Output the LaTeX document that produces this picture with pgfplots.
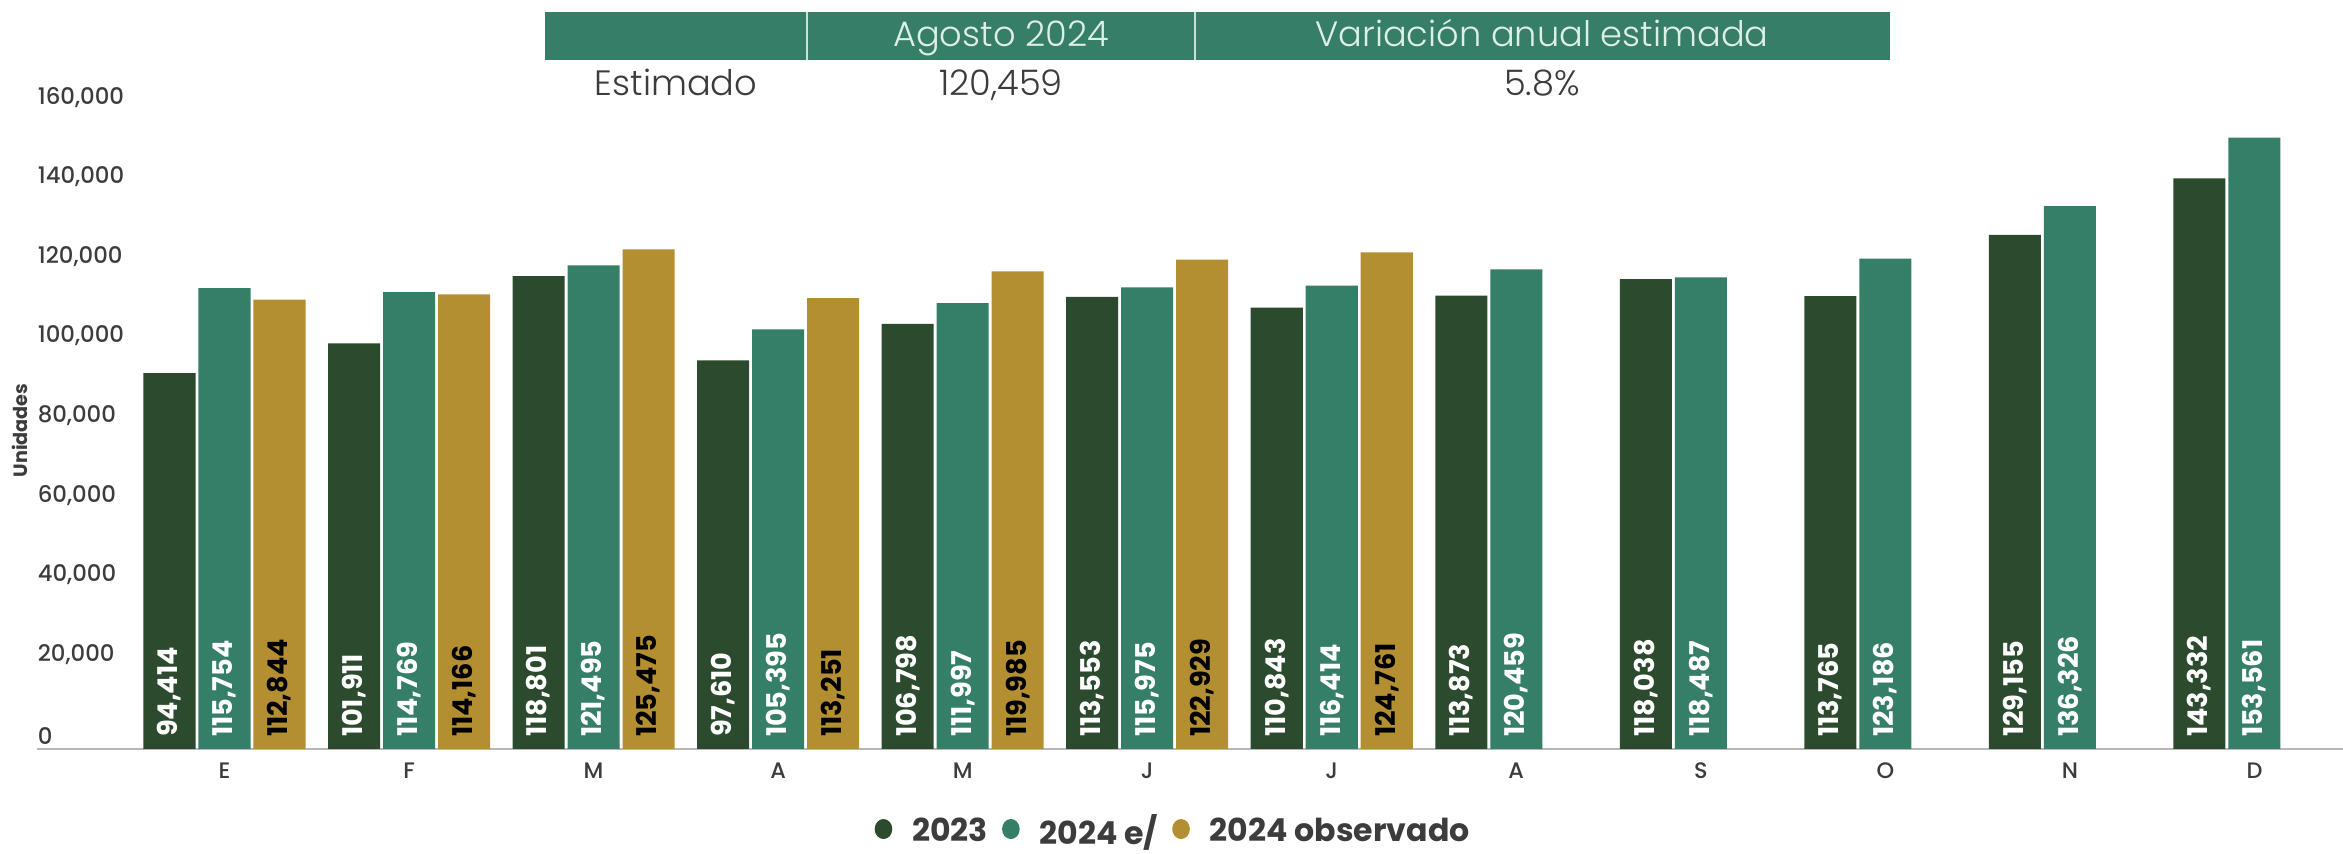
\documentclass[border=0pt]{standalone}
\usepackage{pgfplots}
\pgfplotsset{compat=1.18}
\usepackage{fontspec}
\setmainfont{Poppins}
\newfontfamily\lightfont{Poppins Light}
\newfontfamily\medfont{Poppins Medium}

\definecolor{c23}{HTML}{2C4A2E}
\definecolor{c24}{HTML}{357E67}
\definecolor{cobs}{HTML}{B38F31}
\definecolor{hdr}{HTML}{367E67}
\definecolor{hdrtxt}{HTML}{DDEFE6}
\definecolor{txt}{HTML}{3C3C3C}

\begin{document}
\begin{tikzpicture}
\path[use as bounding box] (0,0) rectangle (585.75pt,213.5pt);
\begin{axis}[
  at={(9.25pt,26.25pt)}, anchor=south west,
  scale only axis, width=576.5pt, height=159.25pt,
  ybar, bar width=0.282,
  xmin=-1.016, xmax=11.48, ymin=0, ymax=160000,
  axis x line*=bottom, axis y line*=left,
  x axis line style={draw=black!28, line width=0.7pt},
  y axis line style={draw=none},
  major tick length=0pt,
  xtick={0,...,11},
  xticklabels={E,F,M,A,M,J,J,A,S,O,N,D},
  ytick={0,20000,...,160000},
  scaled y ticks=false,
  /pgf/number format/fixed,
  /pgf/number format/precision=0,
  /pgf/number format/1000 sep={,},
  /pgf/number format/assume math mode=true,
  xticklabel style={font=\medfont\fontsize{5.6}{6}\selectfont, text=txt, inner sep=0pt, anchor=north, yshift=-3.3pt},
  yticklabel style={font=\medfont\fontsize{5.7}{6}\selectfont, text=txt, inner sep=0pt, anchor=south west, xshift=0pt, yshift=1pt},
  ylabel={Unidades},
  ylabel style={font=\bfseries\fontsize{4.8}{5}\selectfont, text=txt, at={(axis description cs:-0.0075,0.5)}, anchor=center},
  visualization depends on={y \as \rawy},
  nodes near coords={\pgfmathprintnumber{\pgfplotspointmeta}},
  every node near coord/.append style={shift={(axis direction cs:0,-\rawy)}, yshift=2.8pt, rotate=90, anchor=west, inner sep=0pt, font=\bfseries\fontsize{6.8}{7}\selectfont},
  legend style={at={(axis description cs:0.494,-0.131)}, anchor=center, draw=none, fill=none, legend columns=3,
    inner sep=0pt, font=\bfseries\fontsize{7.9}{8}\selectfont, text=txt,
    /tikz/every even column/.append style={column sep=1.5pt},
    /tikz/every odd column/.append style={column sep=3pt}},
  legend image code/.code={\fill (0.08cm,0.03cm) ellipse (2.2pt and 2.5pt);},
]
\addplot[fill=c23, draw=none, bar shift=-0.298, every node near coord/.append style={text=white}] coordinates {
  (0,94414) (1,101911) (2,118801) (3,97610) (4,106798) (5,113553)
  (6,110843) (7,113873) (8,118038) (9,113765) (10,129155) (11,143332)
};
\addplot[fill=c24, draw=none, bar shift=0, every node near coord/.append style={text=white}] coordinates {
  (0,115754) (1,114769) (2,121495) (3,105395) (4,111997) (5,115975)
  (6,116414) (7,120459) (8,118487) (9,123186) (10,136326) (11,153561)
};
\addplot[fill=cobs, draw=none, bar shift=0.298, every node near coord/.append style={text=black}] coordinates {
  (0,112844) (1,114166) (2,125475) (3,113251) (4,119985) (5,122929) (6,124761)
};
\legend{2023,2024 e/,2024 observado}
\end{axis}

% summary table at the top
\fill[hdr] (136.25pt,198.5pt) rectangle (472.5pt,210.5pt);
\draw[white!75!hdr, line width=0.4pt] (201.75pt,198.5pt) -- (201.75pt,210.5pt);
\draw[white!75!hdr, line width=0.4pt] (298.75pt,198.5pt) -- (298.75pt,210.5pt);
\begin{scope}[every node/.style={anchor=base, inner sep=0pt, font=\lightfont\fontsize{8.8}{9}\selectfont}]
\node[text=hdrtxt] at (250.25pt,201.9pt) {Agosto 2024};
\node[text=hdrtxt] at (385.5pt,201.9pt) {Variación anual estimada};
\node[text=txt] at (169pt,189.5pt) {Estimado};
\node[text=txt] at (250.25pt,189.5pt) {120,459};
\node[text=txt] at (385.5pt,189.5pt) {5.8\%};
\end{scope}
\end{tikzpicture}
\end{document}
